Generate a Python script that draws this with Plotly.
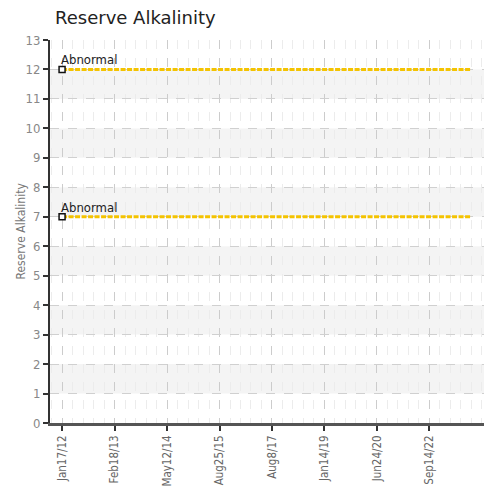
import plotly.graph_objects as go

title = "Reserve Alkalinity"
y_title = "Reserve Alkalinity"
tick_labels = ["Jan17/12", "Feb18/13", "May12/14", "Aug25/15", "Aug8/17", "Jan14/19", "Jun24/20", "Sep14/22"]
tick_positions = [0, 5, 10, 15, 20, 25, 30, 35]
x_first = 0
x_last = 39
thresholds = [12, 7]
threshold_labels = ["Abnormal", "Abnormal"]
band_lows = [1, 3, 5, 7, 9, 11]

NARROW = "Liberation Sans Narrow, DejaVu Sans Condensed, Roboto Condensed, Arial Narrow, Roboto, Arial"

fig = go.Figure()

shapes = []
for lo in band_lows:
    shapes.append(dict(type="rect", xref="paper", yref="y", x0=0, x1=1, y0=lo, y1=lo + 1,
                       fillcolor="#f4f4f4", line=dict(width=0), layer="below"))

for t, lab in zip(thresholds, threshold_labels):
    fig.add_trace(go.Scatter(x=[x_first, x_last], y=[t, t], mode="lines",
                             line=dict(color="#f4c300", width=3, dash="5px,1.5px"),
                             hoverinfo="skip", showlegend=False))
    fig.add_trace(go.Scatter(x=[x_first], y=[t], mode="markers",
                             marker=dict(symbol="square", size=6, color="white", line=dict(width=1.5, color="#111")),
                             showlegend=False))
    fig.add_annotation(x=x_first, y=t, text=lab, showarrow=False, xanchor="left", yanchor="bottom",
                       xshift=-3, yshift=0,
                       font=dict(family=NARROW, size=13, color="#222"))

fig.add_annotation(xref="paper", yref="paper", x=0, y=0.5, xshift=-30, text=y_title, textangle=-90,
                   showarrow=False, xanchor="center", yanchor="middle",
                   font=dict(family=NARROW, size=12, color="#777"))

fig.update_layout(
    width=484, height=478,
    margin=dict(l=42, r=8, t=32, b=63, autoexpand=False),
    paper_bgcolor="white", plot_bgcolor="white",
    title=dict(text=title, x=47 / 484, xref="container", xanchor="left", y=1 - 3 / 478, yref="container", yanchor="top",
               font=dict(family="DejaVu Sans, Verdana", size=18, color="#222")),
    shapes=shapes,
    showlegend=False,
)
fig.update_xaxes(
    automargin=False,
    range=[-1.15, 40.2], tickmode="array", tickvals=tick_positions, ticktext=tick_labels,
    tickangle=-90, ticks="outside", ticklen=5, tickcolor="#333", tickwidth=1.5,
    tickfont=dict(family=NARROW, size=11.5, color="#666"),
    showline=True, linecolor="#555", linewidth=2.5,
    showgrid=True, gridcolor="#cccccc", griddash="dash", gridwidth=1,
    minor=dict(dtick=1, tick0=0, showgrid=True, gridcolor="#ececec", griddash="dash", gridwidth=1, ticks=""),
    zeroline=False,
)
fig.update_yaxes(
    automargin=False,
    range=[0, 13], dtick=1, tick0=0, ticks="outside", ticklen=5, tickcolor="#333", tickwidth=1.5,
    tickfont=dict(family=NARROW, size=13, color="#888"),
    showline=True, linecolor="#333", linewidth=2,
    showgrid=True, gridcolor="#d0d0d0", griddash="dash", gridwidth=1,
    zeroline=False,
)

fig.write_html("out.html")
